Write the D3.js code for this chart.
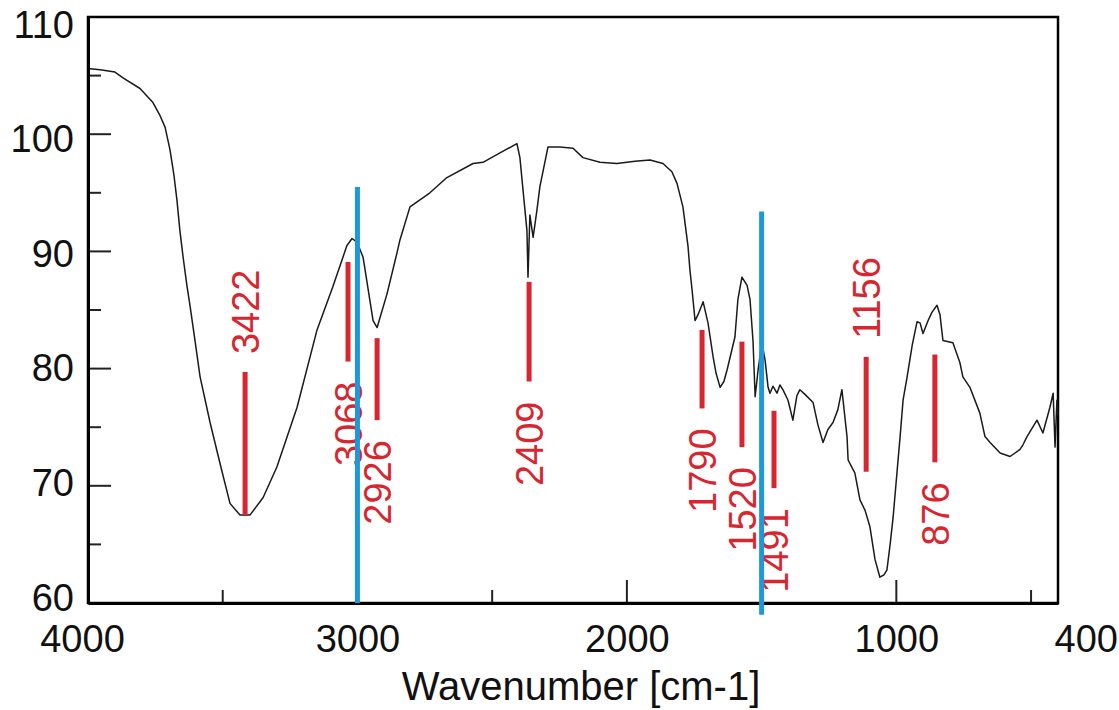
<!DOCTYPE html>
<html>
<head>
<meta charset="utf-8">
<script src="https://cdnjs.cloudflare.com/ajax/libs/d3/7.8.5/d3.min.js"></script>
<style>
  body { margin: 0; background: #fff; }
  text { font-family: "Liberation Sans", Arial, sans-serif; }
</style>
</head>
<body>
<svg></svg>
<script>
var WIDTH = 1119;
var HEIGHT = 710;

// spectrum
var wavenumber = [4000, 3955, 3900, 3870, 3807, 3759, 3733, 3714, 3696, 3681, 3670, 3659, 3647, 3633, 3621, 3603,
  3584, 3547, 3510, 3473, 3436, 3399, 3350, 3299, 3224, 3150, 3091, 3039, 3020, 3002, 2979, 2942, 2927, 2890,
  2853, 2842, 2805, 2731, 2668, 2571, 2534, 2471, 2408, 2397, 2382, 2371, 2367, 2360, 2348, 2334, 2323, 2293,
  2249, 2200, 2163, 2100, 2037, 1970, 1914, 1866, 1833, 1814, 1792, 1773, 1766, 1758, 1747, 1736, 1717, 1699,
  1680, 1669, 1654, 1640, 1628, 1599, 1588, 1573, 1554, 1543, 1532, 1524, 1513, 1499, 1487, 1476, 1469, 1458,
  1443, 1432, 1421, 1402, 1384, 1369, 1358, 1339, 1309, 1291, 1272, 1254, 1235, 1217, 1202, 1183, 1179, 1161,
  1154, 1135, 1116, 1098, 1079, 1061, 1046, 1035, 1023, 1012, 997, 986, 975, 960, 941, 923, 912, 901, 882, 868,
  849, 838, 827, 790, 764, 753, 727, 690, 671, 652, 615, 578, 541, 530, 515, 478, 456, 430, 418, 411, 404, 400];
var transmittance = [105.6, 105.5, 105.3, 104.8, 103.9, 102.7, 101.6, 100.6, 98.7, 96.5, 94.4, 91.8, 89.5, 87.1, 85.3, 82.4,
  79.3, 75.4, 71.9, 68.5, 67.5, 67.5, 69.0, 71.6, 76.7, 83.3, 87.0, 90.5, 91.1, 90.8, 89.5, 84.1, 83.5, 86.4,
  89.9, 91.0, 93.8, 95.0, 96.3, 97.5, 97.6, 98.4, 99.2, 98.0, 94.4, 91.8, 87.8, 93.1, 91.2, 93.5, 95.5, 98.9,
  98.9, 98.8, 98.0, 97.6, 97.5, 97.7, 97.8, 97.5, 96.8, 95.8, 93.8, 90.4, 88.4, 86.7, 84.1, 84.6, 85.7, 83.9,
  81.0, 79.6, 78.4, 78.9, 79.9, 82.7, 85.9, 87.8, 87.1, 85.9, 82.4, 77.6, 79.9, 82.2, 80.7, 78.4, 77.9, 78.5,
  77.9, 78.6, 78.2, 77.3, 75.6, 77.7, 78.2, 77.8, 77.1, 75.2, 73.7, 74.8, 75.4, 76.5, 78.2, 74.2, 72.2, 71.4,
  71.1, 68.8, 67.9, 66.5, 63.7, 62.2, 62.4, 62.8, 65.0, 67.3, 71.3, 74.2, 77.3, 79.3, 82.0, 84.0, 83.9, 83.0, 84.1, 84.8,
  85.4, 84.6, 82.4, 82.2, 80.5, 79.3, 78.4, 76.2, 74.2, 73.7, 72.8, 72.5, 73.1, 73.5, 74.2, 75.6, 74.5, 76.7, 77.9, 73.3, 77.3, 76.0];

// red peak markers
var peakLabels = ['3422', '3068', '2926', '2409', '1790', '1520', '1491', '1156', '876'];
var peakAt = [3417, 3035, 2927, 2363, 1721, 1573, 1454, 1112, 857];
var peakTop = [79.7, 89.1, 82.6, 87.4, 83.3, 82.3, 76.4, 81.0, 81.2];
var peakBottom = [67.5, 80.6, 75.6, 78.9, 76.6, 73.3, 69.8, 71.2, 72.0];
var labelAbove = [true, false, false, false, false, false, false, true, false];

// blue reference lines
var guideAt = [3000, 1500];
var guideTop = [95.5, 93.4];
var guideBottom = [60, 59];

var xTicks = [4000, 3000, 2000, 1000, 400];
var xMinor = [3500, 2500, 1500, 500];
var yTicks = [60, 70, 80, 90, 100, 110];
var yMinor = [65, 75, 85, 95, 105];

var svg = d3.select('svg')
  .attr('width', WIDTH)
  .attr('height', HEIGHT);

var plotLeft = 88, plotRight = 1058, plotTop = 17, plotBottom = 603;

var xScale = d3.scaleLinear().domain([4000, 400]).range([plotLeft, plotRight]);
var yScale = d3.scaleLinear().domain([60, 110]).range([plotBottom, plotTop]);

// frame
svg.append('rect')
  .attr('x', plotLeft).attr('y', plotTop)
  .attr('width', plotRight - plotLeft).attr('height', plotBottom - plotTop)
  .attr('fill', 'none').attr('stroke', '#000').attr('stroke-width', 2.5);

// inward tick marks
var tk = svg.append('g').attr('stroke', '#222').attr('stroke-width', 2);
tk.selectAll('.xt').data(xTicks.slice(1, 4)).enter().append('line')
  .attr('x1', xScale).attr('x2', xScale)
  .attr('y1', plotBottom).attr('y2', plotBottom - 23);
tk.selectAll('.xm').data(xMinor).enter().append('line')
  .attr('x1', xScale).attr('x2', xScale)
  .attr('y1', plotBottom).attr('y2', plotBottom - 13);
tk.selectAll('.yt').data(yTicks.slice(1, 5)).enter().append('line')
  .attr('x1', plotLeft).attr('x2', plotLeft + 23)
  .attr('y1', yScale).attr('y2', yScale);
tk.selectAll('.ym').data(yMinor).enter().append('line')
  .attr('x1', plotLeft).attr('x2', plotLeft + 13)
  .attr('y1', yScale).attr('y2', yScale);

// spectrum
var points = wavenumber.map(function(w, i){ return [w, transmittance[i]]; });
var line = d3.line()
  .x(function(d){ return xScale(d[0]); })
  .y(function(d){ return yScale(d[1]); });
svg.append('path')
  .datum(points)
  .attr('d', line)
  .attr('fill', 'none')
  .attr('stroke', '#1a1a1a')
  .attr('stroke-width', 1.5)
  .attr('stroke-linejoin', 'round');

// peak markers + labels
var peaks = peakLabels.map(function(t, i){
  return {label: t, x: peakAt[i], top: peakTop[i], bottom: peakBottom[i], above: labelAbove[i]};
});
var pg = svg.append('g');
pg.selectAll('line').data(peaks).enter().append('line')
  .attr('x1', function(d){ return xScale(d.x); })
  .attr('x2', function(d){ return xScale(d.x); })
  .attr('y1', function(d){ return yScale(d.top); })
  .attr('y2', function(d){ return yScale(d.bottom); })
  .attr('stroke', '#d7262f')
  .attr('stroke-width', 5);
pg.selectAll('text').data(peaks).enter().append('text')
  .attr('transform', function(d){
    var y = d.above ? yScale(d.top) - 18 : yScale(d.bottom) + 20;
    return 'translate(' + xScale(d.x) + ',' + y + ') rotate(-90)';
  })
  .attr('text-anchor', function(d){ return d.above ? 'start' : 'end'; })
  .attr('dy', '0.36em')
  .attr('fill', '#d7262f')
  .attr('font-size', 38)
  .text(function(d){ return d.label; });

// axes
var botAxis = d3.axisBottom(xScale).tickValues(xTicks).tickSize(0).tickPadding(22).tickFormat(d3.format('d'));
var gx = svg.append('g')
  .attr('transform', 'translate(0,' + plotBottom + ')')
  .call(botAxis);
gx.select('.domain').attr('stroke', '#000').attr('stroke-width', 3);
gx.selectAll('text').attr('font-size', 38).attr('fill', '#111')
  .attr('dx', function(d){ return d === 4000 ? -6 : 0; })
  .attr('text-anchor', function(d){ return d === 400 ? 'start' : 'middle'; })
  .attr('x', function(d){ return d === 400 ? -4 : 0; });

var leftAxis = d3.axisLeft(yScale).tickValues(yTicks).tickSize(0).tickPadding(14);
var gy = svg.append('g')
  .attr('transform', 'translate(' + plotLeft + ',0)')
  .call(leftAxis);
gy.select('.domain').attr('stroke', '#000').attr('stroke-width', 3);
gy.selectAll('text').attr('font-size', 38).attr('fill', '#111')
  .attr('y', function(d){ return (d - 60) * 0.26 - 5; });

// blue lines on top of everything
svg.append('g').selectAll('line').data(guideAt).enter().append('line')
  .attr('x1', function(d){ return xScale(d); })
  .attr('x2', function(d){ return xScale(d); })
  .attr('y1', function(d, i){ return yScale(guideTop[i]); })
  .attr('y2', function(d, i){ return yScale(guideBottom[i]); })
  .attr('stroke', '#1d9ad6')
  .attr('stroke-width', 5);

svg.append('text')
  .attr('x', 581)
  .attr('y', 700)
  .attr('text-anchor', 'middle')
  .attr('font-size', 40)
  .attr('fill', '#111')
  .text('Wavenumber [cm-1]');
</script>
</body>
</html>
